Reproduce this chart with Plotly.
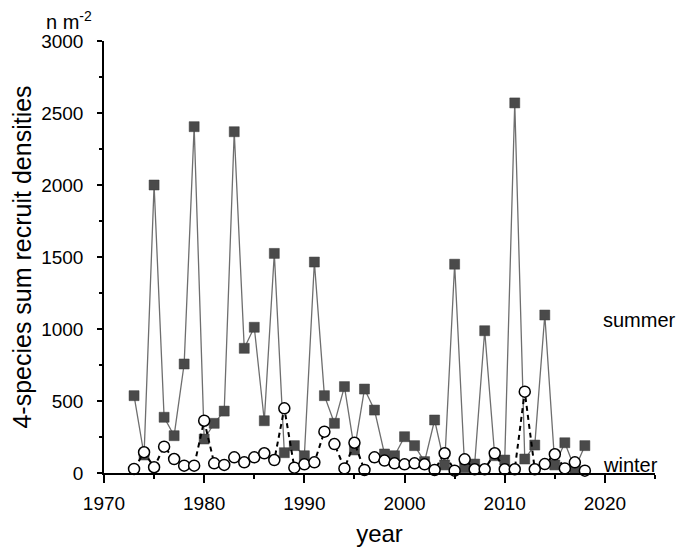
import plotly.graph_objects as go

years = list(range(1973, 2019))

# summer recruit densities (n m-2)
summer = [537, 125, 2000, 387, 259, 757, 2405, 236, 345, 430,
          2370, 866, 1012, 363, 1525, 141, 190, 120, 1465, 537,
          345, 600, 160, 583, 437, 132, 120, 252, 190, 79,
          368, 56, 1450, 37, 62, 988, 120, 90, 2570, 97,
          194, 1097, 56, 210, 30, 190]

# winter recruit densities (n m-2)
winter = [28, 144, 40, 183, 97, 51, 51, 363, 67, 56,
          109, 74, 109, 137, 90, 449, 37, 60, 74, 287,
          201, 32, 210, 21, 109, 86, 67, 60, 67, 60,
          21, 137, 16, 95, 26, 26, 137, 26, 26, 565,
          26, 62, 130, 32, 74, 16]

font = "Liberation Sans, Arial, sans-serif"

fig = go.Figure()

fig.add_trace(go.Scatter(
    x=years, y=summer, mode="lines+markers", name="summer",
    line=dict(color="#6e6e6e", width=1.3),
    marker=dict(symbol="square", size=10, color="#4a4a4a",
                line=dict(color="#3a3a3a", width=0.5)),
    cliponaxis=False,
))

fig.add_trace(go.Scatter(
    x=years, y=winter, mode="lines+markers", name="winter",
    line=dict(color="black", width=2, dash="5px,4px"),
    marker=dict(symbol="circle", size=11, color="white",
                line=dict(color="black", width=1.5)),
    cliponaxis=False,
))

# page body has an 8px margin, so the margins are shifted to compensate
fig.update_layout(
    width=685, height=549,
    margin=dict(l=93, r=38, t=33, b=84),
    plot_bgcolor="white", paper_bgcolor="white",
    showlegend=False,
    font=dict(family=font, size=19, color="black"),
    xaxis=dict(
        range=[1970, 2025], dtick=10, tick0=1970,
        showgrid=False, zeroline=False,
        showline=True, linecolor="black", linewidth=1.5,
        ticks="outside", ticklen=8, tickwidth=1.5, tickcolor="black",
        minor=dict(dtick=5, ticks="outside", ticklen=4, tickwidth=1.5, tickcolor="black"),
        tickfont=dict(size=19), ticklabelstandoff=4,
        title=dict(text="year", font=dict(size=24), standoff=13),
    ),
    yaxis=dict(
        range=[0, 3000], dtick=500,
        showgrid=False, zeroline=False,
        showline=True, linecolor="black", linewidth=1.5,
        ticks="outside", ticklen=5, tickwidth=1.5, tickcolor="black",
        minor=dict(dtick=250, ticks="outside", ticklen=3, tickwidth=1.5, tickcolor="black"),
        tickfont=dict(size=19), ticklabelstandoff=10,
        title=dict(text="4-species sum recruit densities", font=dict(size=25), standoff=4),
    ),
    annotations=[
        dict(x=2019.6, y=1062, xref="x", yref="y", text="summer",
             showarrow=False, xanchor="left", yanchor="middle", font=dict(size=20)),
        dict(x=2019.6, y=56, xref="x", yref="y", text="winter",
             showarrow=False, xanchor="left", yanchor="middle", font=dict(size=20)),
        dict(x=-0.107, y=1.017, xref="paper", yref="paper", text="n m<sup>-2</sup>",
             showarrow=False, xanchor="left", yanchor="bottom", borderpad=0,
             font=dict(size=20)),
    ],
)

fig.write_html("out.html")
